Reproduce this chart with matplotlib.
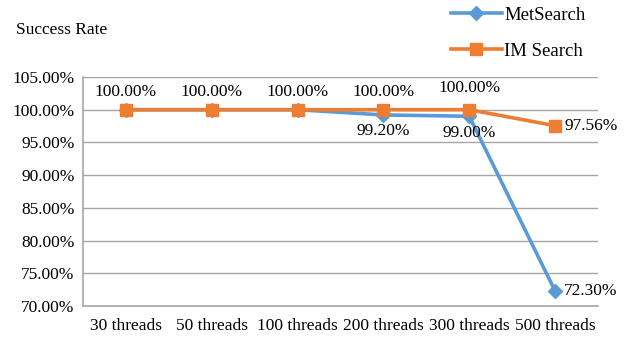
import matplotlib.pyplot as plt
from matplotlib.ticker import FuncFormatter

categories = ['30 threads', '50 threads', '100 threads', '200 threads', '300 threads', '500 threads']
metsearch = [100.00, 100.00, 100.00, 99.20, 99.00, 72.30]
imsearch = [100.00, 100.00, 100.00, 100.00, 100.00, 97.56]

plt.rcParams['font.family'] = ['Liberation Serif', 'DejaVu Serif']

fig = plt.figure(figsize=(6.34, 3.40), dpi=100)
ax = fig.add_axes([83 / 634, 1 - 306 / 340, (598 - 83) / 634, (306 - 77) / 340])

x = list(range(len(categories)))
ax.plot(x, metsearch, color='#5B9BD5', lw=2.6, marker='D', ms=7, label='MetSearch', zorder=3)
ax.plot(x, imsearch, color='#ED7D31', lw=2.6, marker='s', ms=9, label='IM Search', zorder=4)

fs = 12.5
ax.set_xlim(-0.5, len(categories) - 0.5)
ax.set_ylim(70, 105)
ax.set_yticks(range(70, 106, 5))
ax.yaxis.set_major_formatter(FuncFormatter(lambda v, p: f'{v:.2f}%'))
ax.set_xticks(x)
ax.set_xticklabels(categories)
ax.tick_params(length=0, labelsize=fs, colors='black')
ax.tick_params(axis='x', pad=9)
ax.tick_params(axis='y', pad=6)
ax.grid(axis='y', color='#A6A6A6', lw=1)
ax.set_axisbelow(True)
for s in ['top', 'right']:
    ax.spines[s].set_visible(False)
for s in ['left', 'bottom']:
    ax.spines[s].set_color('#A6A6A6')
    ax.spines[s].set_linewidth(1.2)

# data labels
for i in range(5):
    dy = 10 if i == 4 else 7
    ax.annotate(f'{imsearch[i]:.2f}%', (i, imsearch[i]), xytext=(0, dy), textcoords='offset points',
                ha='center', va='bottom', fontsize=fs)
ax.annotate(f'{imsearch[5]:.2f}%', (5, imsearch[5]), xytext=(7, 0), textcoords='offset points',
            ha='left', va='center', fontsize=fs)
for i in (3, 4):
    ax.annotate(f'{metsearch[i]:.2f}%', (i, metsearch[i]), xytext=(0, -6), textcoords='offset points',
                ha='center', va='top', fontsize=fs)
ax.annotate(f'{metsearch[5]:.2f}%', (5, metsearch[5]), xytext=(6, 0), textcoords='offset points',
            ha='left', va='center', fontsize=fs)

fig.text(16 / 634, 1 - 30 / 340, 'Success Rate', fontsize=fs, va='center', ha='left')

fig.legend(loc='upper left', bbox_to_anchor=(434 / 634, 1.03), frameon=False, fontsize=13.5,
           handlelength=2.7, labelspacing=1.0, handletextpad=0.15)

fig.savefig('out.png', dpi=100)
